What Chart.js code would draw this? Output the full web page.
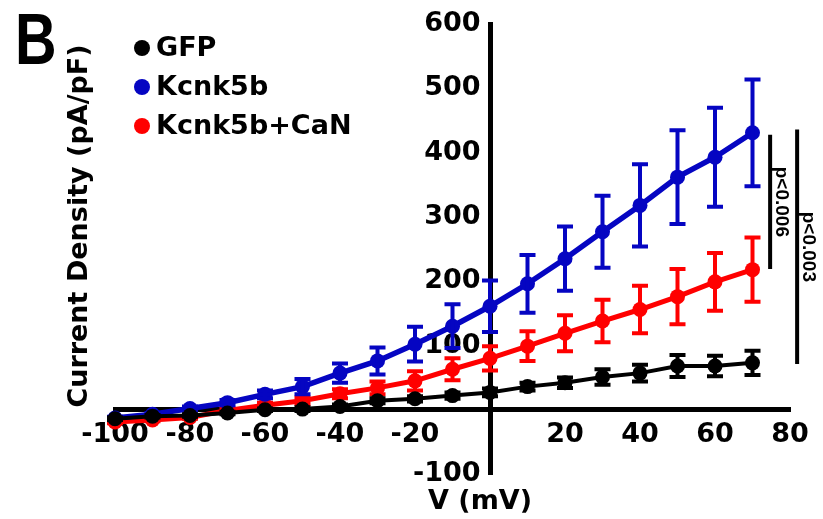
<!DOCTYPE html>
<html lang="en">
<head>
<meta charset="UTF-8">
<title>Current density vs voltage</title>
<script src="https://cdn.jsdelivr.net/npm/chart.js"></script>
<style>
  body { margin: 0; background: #fff; }
  #wrap { width: 823px; height: 519px; }
</style>
</head>
<body>
<div id="wrap"><canvas id="ivChart" width="823" height="519"></canvas></div>
<script>
// voltage steps (mV)
const volts = [-100, -90, -80, -70, -60, -50, -40, -30, -20, -10, 0, 10, 20, 30, 40, 50, 60, 70];

// current density (pA/pF), mean and SEM
const gfpMean = [-14, -10, -9, -5, 0, 1, 5, 14, 17, 22, 27, 36, 42, 51, 57, 68, 68, 73];
const gfpSem  = [2, 2, 2, 2, 2, 3, 3, 4, 4, 5, 6, 6, 8, 12, 13, 17, 16, 19];
const kcnkMean = [-13, -7, 2, 11, 24, 36, 57, 76, 102, 130, 161, 196, 235, 277, 318, 362, 393, 431];
const kcnkSem  = [2, 2, 3, 4, 6, 12, 15, 21, 27, 34, 40, 45, 50, 56, 64, 73, 77, 83];
const canMean = [-19, -16, -12, -1, 7, 14, 25, 34, 45, 63, 80, 99, 119, 138, 156, 176, 199, 218];
const canSem  = [2, 2, 2, 3, 4, 5, 7, 10, 15, 17, 19, 23, 28, 33, 37, 43, 45, 50];

const seriesNames = ['GFP', 'Kcnk5b', 'Kcnk5b+CaN'];
const seriesColors = ['#000000', '#0505c2', '#ff0000'];

const xTicks = [-100, -80, -60, -40, -20, 20, 40, 60, 80];
const yTicks = [-100, 100, 200, 300, 400, 500, 600];

// significance brackets: x (mV), top and bottom (pA/pF)
const pLabels = ['p<0.006', 'p<0.003'];
const bracketX = [74.7, 81.9];
const bracketTop = [428, 436];
const bracketBottom = [219, 71];

const FONT = '"DejaVu Sans", sans-serif';

function toPoints(ys) {
    return volts.map((v, i) => ({ x: v, y: ys[i] }));
}

const errorBars = {
    id: 'errorBars',
    afterDatasetDraw(chart, args) {
        const ds = chart.data.datasets[args.index];
        if (!ds.sem) return;
        const yScale = chart.scales.y;
        const ctx = chart.ctx;
        ctx.save();
        ctx.strokeStyle = ds.borderColor;
        ctx.lineWidth = 4;
        args.meta.data.forEach((pt, i) => {
            const v = ds.data[i].y;
            const top = yScale.getPixelForValue(v + ds.sem[i]);
            const bot = yScale.getPixelForValue(v - ds.sem[i]);
            ctx.beginPath();
            ctx.moveTo(pt.x, top); ctx.lineTo(pt.x, bot);
            ctx.moveTo(pt.x - 8, top); ctx.lineTo(pt.x + 8, top);
            ctx.moveTo(pt.x - 8, bot); ctx.lineTo(pt.x + 8, bot);
            ctx.stroke();
        });
        ctx.restore();
    }
};

const decorations = {
    id: 'decorations',
    afterDraw(chart) {
        const ctx = chart.ctx;
        const xs = chart.scales.x, ys = chart.scales.y;
        ctx.save();
        ctx.fillStyle = '#000';

        // panel letter
        ctx.save();
        ctx.font = 'bold 72px "Liberation Sans", Arial, sans-serif';
        ctx.textBaseline = 'alphabetic';
        ctx.translate(15, 64);
        ctx.scale(0.8, 1);
        ctx.fillText('B', 0, 0);
        ctx.restore();

        // legend
        ctx.font = 'bold 27px ' + FONT;
        ctx.textBaseline = 'middle';
        ctx.textAlign = 'left';
        chart.data.datasets.forEach((ds, i) => {
            const cy = 48 + i * 39;
            ctx.fillStyle = ds.borderColor;
            ctx.beginPath();
            ctx.arc(142, cy, 8, 0, Math.PI * 2);
            ctx.fill();
            ctx.fillStyle = '#000';
            ctx.fillText(ds.label, 156, cy + 1);
        });

        // axis titles
        ctx.textAlign = 'center';
        ctx.fillText('V (mV)', 480, 502);
        ctx.save();
        ctx.translate(80, 226);
        ctx.rotate(-Math.PI / 2);
        ctx.fillText('Current Density (pA/pF)', 0, 0);
        ctx.restore();

        // significance brackets
        ctx.strokeStyle = '#000';
        ctx.lineWidth = 4;
        ctx.font = 'bold 19px "Liberation Sans", Arial, sans-serif';
        pLabels.forEach((txt, i) => {
            const x = xs.getPixelForValue(bracketX[i]);
            const y1 = ys.getPixelForValue(bracketTop[i]);
            const y2 = ys.getPixelForValue(bracketBottom[i]);
            ctx.beginPath();
            ctx.moveTo(x, y1);
            ctx.lineTo(x, y2);
            ctx.stroke();
            ctx.save();
            ctx.translate(x + 11, (y1 + y2) / 2);
            ctx.rotate(Math.PI / 2);
            ctx.textAlign = 'center';
            ctx.textBaseline = 'middle';
            ctx.fillText(txt, 0, 0);
            ctx.restore();
        });
        ctx.restore();
    }
};

const means = [gfpMean, kcnkMean, canMean];
const sems = [gfpSem, kcnkSem, canSem];
const widths = [4, 5.5, 5];

const ctx = document.getElementById('ivChart').getContext('2d');
const chart = new Chart(ctx, {
    type: 'line',
    data: {
        datasets: seriesNames.map((name, i) => ({
            label: name,
            data: toPoints(means[i]),
            sem: sems[i],
            borderColor: seriesColors[i],
            backgroundColor: seriesColors[i],
            pointBackgroundColor: seriesColors[i],
            pointBorderColor: seriesColors[i],
            pointRadius: 7.5,
            pointBorderWidth: 0,
            borderWidth: widths[i],
            tension: 0,
            fill: false,
            clip: false
        }))
    },
    options: {
        responsive: false,
        animation: false,
        layout: { padding: { left: 115, right: 33, top: 21, bottom: 45 } },
        plugins: {
            legend: { display: false },
            tooltip: { enabled: false }
        },
        scales: {
            x: {
                type: 'linear',
                min: -100,
                max: 80,
                position: { y: 0 },
                afterBuildTicks: (s) => { s.ticks = xTicks.map(v => ({ value: v })); },
                grid: { display: false, drawTicks: false },
                border: { display: true, color: '#000', width: 5 },
                ticks: {
                    color: '#000',
                    padding: 9,
                    maxRotation: 0,
                    autoSkip: false,
                    font: { family: FONT, size: 27, weight: 'bold' }
                }
            },
            y: {
                type: 'linear',
                min: -100,
                max: 600,
                position: { x: 0 },
                afterBuildTicks: (s) => { s.ticks = yTicks.map(v => ({ value: v })); },
                grid: { display: false, drawTicks: false },
                border: { display: true, color: '#000', width: 5 },
                ticks: {
                    color: '#000',
                    padding: 8,
                    autoSkip: false,
                    // labels sit right on the axis here, so push them left a bit
                    callback: (v) => v + ' ',
                    font: { family: FONT, size: 27, weight: 'bold' }
                }
            }
        }
    },
    plugins: [errorBars, decorations]
});
</script>
</body>
</html>
